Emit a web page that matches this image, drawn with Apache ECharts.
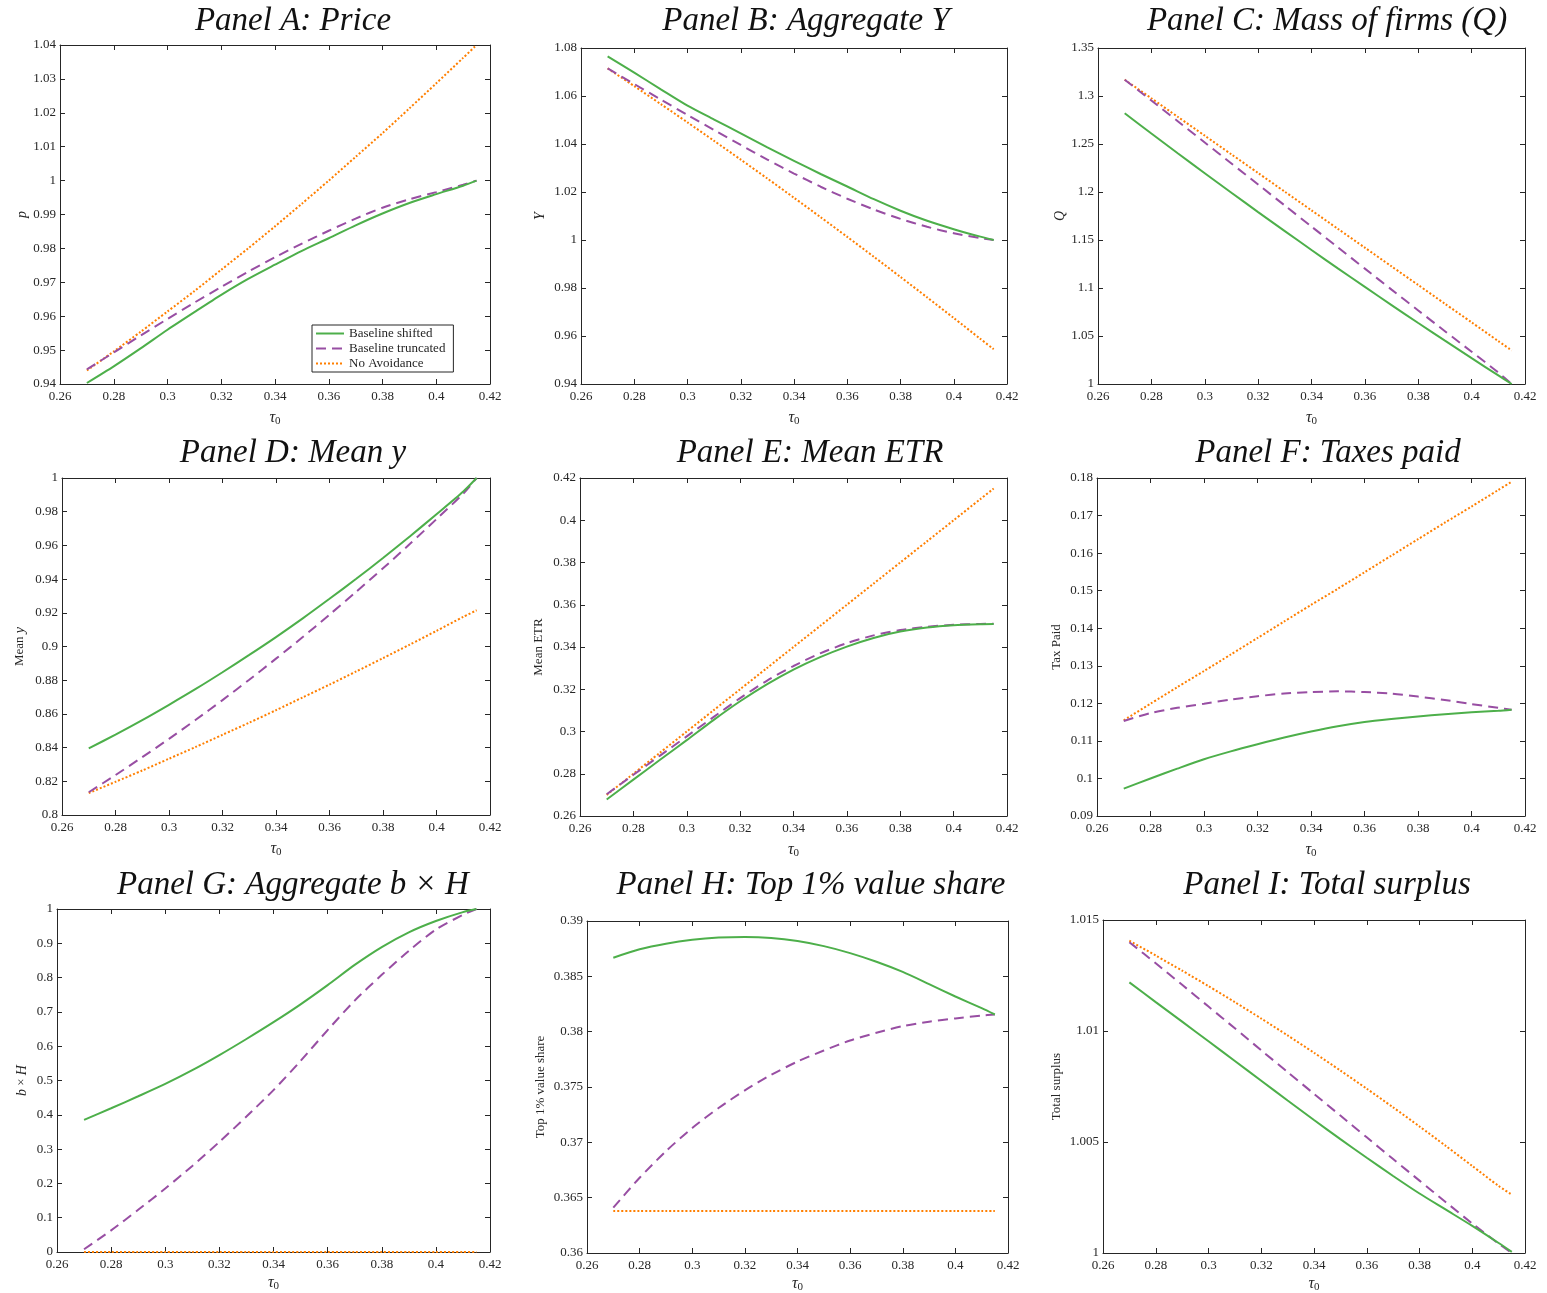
<!DOCTYPE html>
<html>
<head>
<meta charset="utf-8">
<script src="https://cdn.jsdelivr.net/npm/echarts@6/dist/echarts.min.js"></script>
<style>
  html, body { margin: 0; padding: 0; background: #ffffff; }
  #chart { width: 1547px; height: 1293px; }
</style>
</head>
<body>
<div id="chart"></div>
<script>
// Statutory rate grid (tau_0)
const tau = [0.27, 0.28, 0.29, 0.30, 0.31, 0.32, 0.33, 0.34, 0.35, 0.36, 0.37, 0.38, 0.39, 0.40, 0.41, 0.415];
const xTicks = [0.26, 0.28, 0.30, 0.32, 0.34, 0.36, 0.38, 0.40, 0.42];

const seriesNames = ['Baseline shifted', 'Baseline truncated', 'No Avoidance'];

// Panel A: price
const priceShifted   = [0.9403, 0.9452, 0.9505, 0.9560, 0.9612, 0.9663, 0.9710, 0.9752, 0.9793, 0.9830, 0.9868, 0.9903, 0.9934, 0.9960, 0.9985, 1.0000];
const priceTruncated = [0.9443, 0.9493, 0.9543, 0.9592, 0.9640, 0.9686, 0.9731, 0.9774, 0.9814, 0.9852, 0.9888, 0.9920, 0.9945, 0.9966, 0.9988, 1.0000];
const priceNoAvoid   = [0.9440, 0.9496, 0.9554, 0.9614, 0.9674, 0.9737, 0.9800, 0.9865, 0.9932, 1.0000, 1.0070, 1.0140, 1.0213, 1.0287, 1.0362, 1.0400];
const priceTicks = [0.94, 0.95, 0.96, 0.97, 0.98, 0.99, 1.00, 1.01, 1.02, 1.03, 1.04];

// Panel B: aggregate Y
const outputShifted   = [1.0765, 1.0697, 1.0628, 1.0560, 1.0502, 1.0444, 1.0386, 1.0330, 1.0275, 1.0223, 1.0170, 1.0122, 1.0080, 1.0045, 1.0014, 1.0000];
const outputTruncated = [1.0715, 1.0650, 1.0585, 1.0521, 1.0458, 1.0396, 1.0335, 1.0277, 1.0222, 1.0172, 1.0127, 1.0088, 1.0055, 1.0028, 1.0008, 1.0000];
const outputNoAvoid   = [1.0715, 1.0641, 1.0566, 1.0490, 1.0413, 1.0335, 1.0256, 1.0176, 1.0095, 1.0013, 0.9930, 0.9846, 0.9761, 0.9675, 0.9588, 0.9545];
const outputTicks = [0.94, 0.96, 0.98, 1.00, 1.02, 1.04, 1.06, 1.08];

// Panel C: mass of firms Q
const massShifted   = [1.2820, 1.2609, 1.2401, 1.2196, 1.1992, 1.1791, 1.1593, 1.1396, 1.1202, 1.1011, 1.0822, 1.0635, 1.0451, 1.0269, 1.0089, 1.0000];
const massTruncated = [1.3170, 1.2953, 1.2735, 1.2516, 1.2297, 1.2078, 1.1859, 1.1640, 1.1421, 1.1202, 1.0983, 1.0766, 1.0550, 1.0336, 1.0120, 1.0000];
const massNoAvoid   = [1.3170, 1.2976, 1.2781, 1.2587, 1.2392, 1.2198, 1.2003, 1.1809, 1.1614, 1.1420, 1.1225, 1.1031, 1.0836, 1.0642, 1.0447, 1.0350];
const massTicks = [1.00, 1.05, 1.10, 1.15, 1.20, 1.25, 1.30, 1.35];

// Panel D: mean y
const meanYShifted   = [0.8395, 0.8477, 0.8563, 0.8654, 0.8748, 0.8847, 0.8950, 0.9056, 0.9167, 0.9283, 0.9402, 0.9525, 0.9653, 0.9785, 0.9920, 1.0000];
const meanYTruncated = [0.8135, 0.8237, 0.8343, 0.8452, 0.8565, 0.8682, 0.8803, 0.8928, 0.9056, 0.9189, 0.9325, 0.9464, 0.9608, 0.9756, 0.9907, 1.0000];
const meanYNoAvoid   = [0.8130, 0.8197, 0.8264, 0.8334, 0.8404, 0.8476, 0.8548, 0.8622, 0.8698, 0.8774, 0.8852, 0.8931, 0.9011, 0.9093, 0.9176, 0.9215];
const meanYTicks = [0.80, 0.82, 0.84, 0.86, 0.88, 0.90, 0.92, 0.94, 0.96, 0.98, 1.00];

// Panel E: mean effective tax rate
const etrShifted   = [0.2678, 0.2772, 0.2866, 0.2959, 0.3054, 0.3143, 0.3223, 0.3293, 0.3352, 0.3402, 0.3443, 0.3473, 0.3492, 0.3503, 0.3508, 0.3509];
const etrTruncated = [0.2703, 0.2795, 0.2886, 0.2977, 0.3068, 0.3158, 0.3240, 0.3310, 0.3370, 0.3418, 0.3455, 0.3480, 0.3496, 0.3505, 0.3509, 0.3510];
const etrNoAvoid   = [0.2700, 0.2800, 0.2900, 0.3000, 0.3100, 0.3200, 0.3300, 0.3400, 0.3500, 0.3600, 0.3700, 0.3800, 0.3900, 0.4000, 0.4100, 0.4150];
const etrTicks = [0.26, 0.28, 0.30, 0.32, 0.34, 0.36, 0.38, 0.40, 0.42];

// Panel F: taxes paid
const taxShifted   = [0.0973, 0.1000, 0.1026, 0.1051, 0.1072, 0.1091, 0.1109, 0.1125, 0.1139, 0.1150, 0.1158, 0.1165, 0.1171, 0.1176, 0.1180, 0.1183];
const taxTruncated = [0.1153, 0.1174, 0.1188, 0.1199, 0.1210, 0.1219, 0.1226, 0.1230, 0.1232, 0.1230, 0.1226, 0.1218, 0.1209, 0.1198, 0.1188, 0.1183];
const taxNoAvoid   = [0.1155, 0.1199, 0.1243, 0.1286, 0.1330, 0.1374, 0.1418, 0.1462, 0.1505, 0.1549, 0.1593, 0.1637, 0.1681, 0.1724, 0.1768, 0.1790];
const taxTicks = [0.09, 0.10, 0.11, 0.12, 0.13, 0.14, 0.15, 0.16, 0.17, 0.18];

// Panel G: aggregate b x H
const bhShifted   = [0.385, 0.419, 0.454, 0.490, 0.530, 0.574, 0.621, 0.670, 0.722, 0.778, 0.837, 0.889, 0.932, 0.965, 0.991, 1.000];
const bhTruncated = [0.008, 0.063, 0.123, 0.185, 0.251, 0.321, 0.395, 0.472, 0.557, 0.647, 0.733, 0.808, 0.878, 0.940, 0.983, 1.000];
const bhNoAvoid   = [0, 0, 0, 0, 0, 0, 0, 0, 0, 0, 0, 0, 0, 0, 0, 0];
const bhTicks = [0, 0.1, 0.2, 0.3, 0.4, 0.5, 0.6, 0.7, 0.8, 0.9, 1.0];

// Panel H: top 1% value share
const topShifted   = [0.38668, 0.38744, 0.38795, 0.38830, 0.38850, 0.38856, 0.38847, 0.38819, 0.38773, 0.38710, 0.38632, 0.38540, 0.38430, 0.38318, 0.38212, 0.38155];
const topTruncated = [0.36410, 0.36680, 0.36920, 0.37130, 0.37310, 0.37470, 0.37610, 0.37730, 0.37830, 0.37920, 0.37990, 0.38050, 0.38090, 0.38120, 0.38145, 0.38155];
const topNoAvoid   = [0.3638, 0.3638, 0.3638, 0.3638, 0.3638, 0.3638, 0.3638, 0.3638, 0.3638, 0.3638, 0.3638, 0.3638, 0.3638, 0.3638, 0.3638, 0.3638];
const topTicks = [0.360, 0.365, 0.370, 0.375, 0.380, 0.385, 0.390];

// Panel I: total surplus
const surplusShifted   = [1.01219, 1.01130, 1.01042, 1.00954, 1.00865, 1.00776, 1.00687, 1.00599, 1.00513, 1.00429, 1.00347, 1.00268, 1.00195, 1.00122, 1.00045, 1.00005];
const surplusTruncated = [1.01400, 1.01305, 1.01208, 1.01110, 1.01012, 1.00913, 1.00815, 1.00717, 1.00619, 1.00521, 1.00423, 1.00326, 1.00229, 1.00133, 1.00042, 1.00000];
const surplusNoAvoid   = [1.01407, 1.01340, 1.01272, 1.01202, 1.01130, 1.01056, 1.00980, 1.00902, 1.00822, 1.00740, 1.00656, 1.00570, 1.00482, 1.00392, 1.00302, 1.00263];
const surplusTicks = [1.000, 1.005, 1.010, 1.015];

// ---- panel descriptions ----
const panels = [
  { title: 'Panel A: Price', yName: '{i|p}', ticks: priceTicks, data: [priceShifted, priceTruncated, priceNoAvoid] },
  { title: 'Panel B: Aggregate Y', yName: '{i|Y}', ticks: outputTicks, data: [outputShifted, outputTruncated, outputNoAvoid] },
  { title: 'Panel C: Mass of firms (Q)', yName: '{i|Q}', ticks: massTicks, data: [massShifted, massTruncated, massNoAvoid] },
  { title: 'Panel D: Mean y', yName: 'Mean {i|y}', ticks: meanYTicks, data: [meanYShifted, meanYTruncated, meanYNoAvoid] },
  { title: 'Panel E: Mean ETR', yName: 'Mean ETR', ticks: etrTicks, data: [etrShifted, etrTruncated, etrNoAvoid] },
  { title: 'Panel F: Taxes paid', yName: 'Tax Paid', ticks: taxTicks, data: [taxShifted, taxTruncated, taxNoAvoid] },
  { title: 'Panel G: Aggregate b \u00d7 H', yName: '{i|b} \u00d7 {i|H}', ticks: bhTicks, data: [bhShifted, bhTruncated, bhNoAvoid] },
  { title: 'Panel H: Top 1% value share', yName: 'Top 1% value share', ticks: topTicks, data: [topShifted, topTruncated, topNoAvoid] },
  { title: 'Panel I: Total surplus', yName: 'Total surplus', ticks: surplusTicks, data: [surplusShifted, surplusTruncated, surplusNoAvoid] }
];

// Plot-box geometry (left, top, width, height) and label gaps
const boxes = [
  { box: [60, 45, 430, 339],   yGap: 31, xGap: 24 },
  { box: [581, 48, 426, 336],  yGap: 34, xGap: 24 },
  { box: [1098, 48, 427, 336], yGap: 31, xGap: 24 },
  { box: [62, 478, 428, 337],  yGap: 35, xGap: 24 },
  { box: [580, 478, 427, 338], yGap: 35, xGap: 24 },
  { box: [1097, 478, 428, 338], yGap: 34, xGap: 24 },
  { box: [57, 909, 433, 343],  yGap: 28, xGap: 21 },
  { box: [587, 921, 421, 332], yGap: 40, xGap: 21 },
  { box: [1103, 920, 422, 333], yGap: 40, xGap: 21 }
];
const titleCenters = [[293, 21], [806, 21], [1327, 21], [293, 453], [810, 453], [1328, 453], [293, 885], [811, 885], [1327, 885]];

const INK = '#262626';
const SERIF = '"Liberation Serif", "DejaVu Serif", serif';
const lineStyles = [
  { color: '#4DAF4A', width: 2, type: 'solid' },
  { color: '#984EA3', width: 2, type: [10, 6] },
  { color: '#FF7F00', width: 2, type: [2, 2] }
];

const step = arr => Math.round((arr[1] - arr[0]) * 1e6) / 1e6;

const grid = [], xAxis = [], yAxis = [], series = [], graphic = [];

panels.forEach((p, i) => {
  const b = boxes[i];
  grid.push({ left: b.box[0], top: b.box[1], width: b.box[2], height: b.box[3], containLabel: false, outerBoundsMode: 'none' });

  const axisLine = { show: true, onZero: false, lineStyle: { color: INK, width: 1 } };
  const axisTick = { show: true, inside: true, length: 5, lineStyle: { color: INK, width: 1 } };
  const xCommon = {
    type: 'value', gridIndex: i,
    min: xTicks[0], max: xTicks[xTicks.length - 1], interval: step(xTicks),
    axisLine, axisTick, splitLine: { show: false }
  };
  xAxis.push(Object.assign({}, xCommon, {
    position: 'bottom',
    axisLabel: { color: INK, fontFamily: SERIF, fontSize: 13, margin: 6 },
    name: '{i|\u03c4}{s|0}', nameLocation: 'middle', nameGap: b.xGap,
    nameTextStyle: {
      color: INK,
      rich: {
        i: { fontFamily: SERIF, fontStyle: 'italic', fontSize: 16, color: INK },
        s: { fontFamily: SERIF, fontSize: 11, color: INK, padding: [8, 0, 0, 0] }
      }
    }
  }));
  xAxis.push(Object.assign({}, xCommon, { position: 'top', axisLabel: { show: false } }));

  const yCommon = {
    type: 'value', gridIndex: i,
    min: p.ticks[0], max: p.ticks[p.ticks.length - 1], interval: step(p.ticks),
    axisLine, axisTick, splitLine: { show: false }
  };
  yAxis.push(Object.assign({}, yCommon, {
    position: 'left',
    axisLabel: { color: INK, fontFamily: SERIF, fontSize: 13, margin: 4 },
    name: p.yName, nameLocation: 'middle', nameGap: b.yGap, nameRotate: 90,
    nameTextStyle: {
      color: INK, fontFamily: SERIF, fontSize: 13,
      rich: {
        i: { fontFamily: SERIF, fontStyle: 'italic', fontSize: 14, color: INK }
      }
    }
  }));
  yAxis.push(Object.assign({}, yCommon, { position: 'right', axisLabel: { show: false } }));

  p.data.forEach((vals, k) => {
    series.push({
      name: seriesNames[k],
      type: 'line',
      xAxisIndex: 2 * i,
      yAxisIndex: 2 * i,
      data: tau.map((t, j) => [t, vals[j]]),
      symbol: 'none',
      smooth: 0.25,
      clip: false,
      lineStyle: lineStyles[k],
      itemStyle: { color: lineStyles[k].color },
      z: 3 + (2 - k)
    });
  });

  graphic.push({
    type: 'text',
    x: titleCenters[i][0], y: titleCenters[i][1],
    style: {
      text: p.title, fill: '#111111',
      font: 'italic 33px ' + SERIF,
      align: 'center', verticalAlign: 'middle'
    }
  });
});

const chart = echarts.init(document.getElementById('chart'), null, { renderer: 'canvas' });
chart.setOption({
  animation: false,
  backgroundColor: '#ffffff',
  grid, xAxis, yAxis, series, graphic,
  legend: {
    data: seriesNames,
    orient: 'vertical',
    left: 312, top: 325,
    itemWidth: 28, itemHeight: 14, itemGap: 2,
    padding: [2, 8, 2, 3],
    borderColor: INK, borderWidth: 1, backgroundColor: '#ffffff',
    selectedMode: false,
    itemStyle: { opacity: 0 },
    textStyle: { color: INK, fontFamily: SERIF, fontSize: 13 }
  }
});
</script>
</body>
</html>
